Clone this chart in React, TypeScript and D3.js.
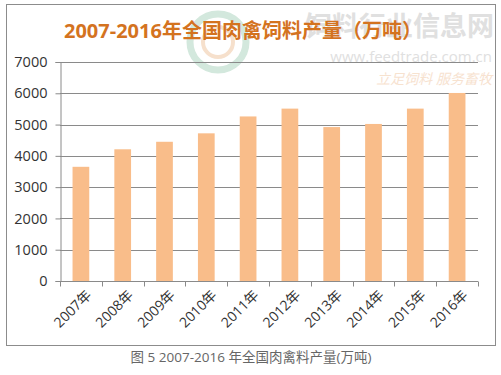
import React, { useEffect, useRef } from 'react';
import * as d3 from 'd3';

const years = ['2007年', '2008年', '2009年', '2010年', '2011年', '2012年', '2013年', '2014年', '2015年', '2016年']
const output = [3650, 4210, 4450, 4720, 5260, 5510, 4920, 5020, 5510, 6010]
const yTicks = [0, 1000, 2000, 3000, 4000, 5000, 6000, 7000]

const W = 501
const H = 375
const margin = { top: 62, right: 23, bottom: 94, left: 60 }
const width = W - margin.left - margin.right
const height = H - margin.top - margin.bottom

const font = '"Open Sans", "Noto Sans CJK SC", sans-serif'

const App = () => {
  const ref = useRef<SVGSVGElement>(null)

  useEffect(() => {
    if (!ref.current) return
    const root = d3.select(ref.current)
    root.selectAll('*').remove()

    // outer frame
    root.append('rect')
      .attr('x', 6.5).attr('y', 4.5)
      .attr('width', 489).attr('height', 341)
      .attr('fill', '#fff').attr('stroke', '#8c8c8c')

    // watermark (feedtrade logo + site name)
    const wm = root.append('g')
    wm.append('circle').attr('cx', 218).attr('cy', 42).attr('r', 28)
      .attr('fill', 'none').attr('stroke', '#d3e8dd').attr('stroke-width', 7)
    wm.append('circle').attr('cx', 218).attr('cy', 42).attr('r', 15)
      .attr('fill', 'none').attr('stroke', '#f6e0cc').attr('stroke-width', 4)
    wm.append('text').attr('x', 494).attr('y', 36).attr('text-anchor', 'end')
      .attr('font-family', font).attr('font-size', 27).attr('font-weight', 'bold')
      .attr('fill', '#e0e0e0').text('饲料行业信息网')
    wm.append('text').attr('x', 492).attr('y', 62).attr('text-anchor', 'end')
      .attr('font-family', font).attr('font-size', 15)
      .attr('fill', '#e0e0e0').text('www.feedtrade.com.cn')
    wm.append('text').attr('x', 492).attr('y', 84).attr('text-anchor', 'end')
      .attr('font-family', font).attr('font-size', 14).attr('font-style', 'italic')
      .attr('fill', '#f7e2cf').text('立足饲料  服务畜牧')

    // title
    root.append('text')
      .attr('x', 64).attr('y', 38)
      .attr('font-family', font).attr('font-size', 20).attr('font-weight', 'bold')
      .attr('fill', '#d4731f')
      .text('2007-2016年全国肉禽饲料产量（万吨）')

    const svg = root.append('g').attr('transform', `translate(${margin.left},${margin.top})`)

    const x = d3.scaleBand().domain(years).range([0, width]).paddingInner(0.6).paddingOuter(0.3)
    const y = d3.scaleLinear().domain([0, 7000]).range([height, 0])

    // gridlines
    svg.selectAll('.grid')
      .data(yTicks.filter(d => d > 0))
      .enter()
      .append('line')
      .attr('x1', 0).attr('x2', width)
      .attr('y1', d => Math.round(y(d)) + 0.5).attr('y2', d => Math.round(y(d)) + 0.5)
      .attr('stroke', '#8a8a8a')

    // bars
    svg.selectAll('.bar')
      .data(output)
      .enter()
      .append('rect')
      .attr('x', (d, i) => x(years[i]) as number)
      .attr('y', d => y(d))
      .attr('width', x.bandwidth())
      .attr('height', d => height - y(d))
      .attr('fill', '#f9bd8a')

    // y axis
    const yAxis = d3.axisLeft(y).tickValues(yTicks).tickSize(5).tickPadding(8).tickFormat(d3.format('d'))
    const ya = svg.append('g').attr('transform', 'translate(0.5,0)').call(yAxis)
    ya.select('.domain').attr('stroke', '#8a8a8a')
    ya.selectAll('line').attr('stroke', '#8a8a8a')
    ya.selectAll('text').attr('font-family', font).attr('font-size', 14.5).attr('fill', '#333')

    // x axis: ticks sit between categories
    const step = width / years.length
    const xa = svg.append('g').attr('transform', `translate(0,${Math.round(height) + 0.5})`)
    xa.append('line').attr('x1', 0).attr('x2', width).attr('stroke', '#8a8a8a')
    xa.selectAll('.tk')
      .data(d3.range(years.length + 1))
      .enter()
      .append('line')
      .attr('x1', i => Math.round(i * step) + 0.5).attr('x2', i => Math.round(i * step) + 0.5)
      .attr('y1', 0).attr('y2', 5)
      .attr('stroke', '#8a8a8a')
    xa.selectAll('.lbl')
      .data(years)
      .enter()
      .append('text')
      .attr('transform', d => `translate(${(x(d) as number) + x.bandwidth() / 2 + 8},11) rotate(-45)`)
      .attr('text-anchor', 'end')
      .attr('dy', '0.35em')
      .attr('font-family', font).attr('font-size', 14).attr('fill', '#333')
      .text(d => d)

    // caption
    root.append('text')
      .attr('x', 251).attr('y', 362).attr('text-anchor', 'middle')
      .attr('font-family', font).attr('font-size', 13.5).attr('fill', '#666')
      .text('图 5 2007-2016 年全国肉禽料产量(万吨)')
  }, [])

  return (
    <svg
      ref={ref}
      width={W}
      height={H}
      style={{ position: 'absolute', left: 0, top: 0, background: '#fff' }}
    ></svg>
  )
}

export default App
